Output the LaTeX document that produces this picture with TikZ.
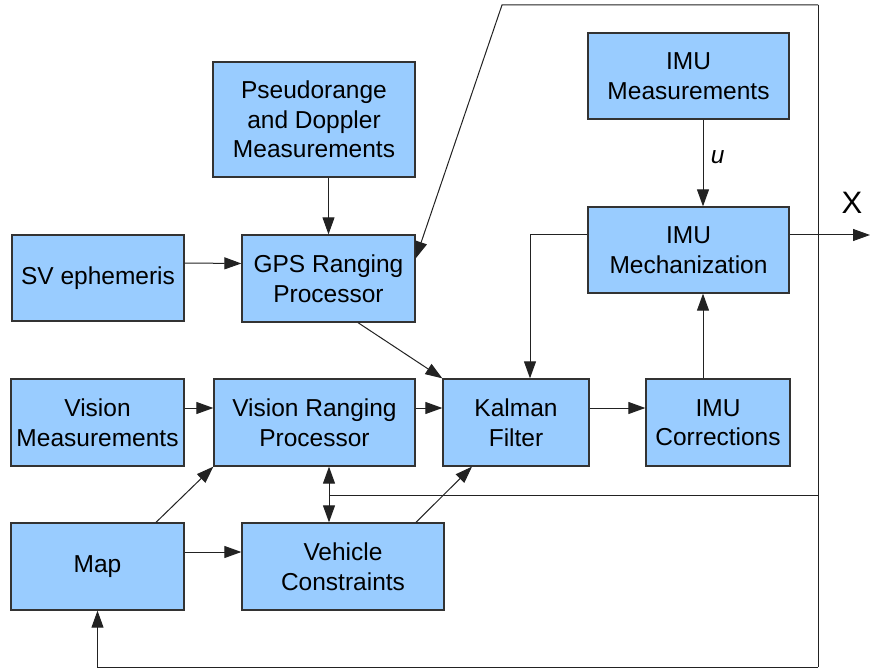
\documentclass[tikz,border=0pt]{standalone}
\usepackage{fontspec}
\setmainfont{Liberation Sans}
\usetikzlibrary{arrows.meta}
\definecolor{boxfill}{HTML}{99CCFF}
\definecolor{boxline}{HTML}{333333}
\definecolor{wire}{HTML}{222222}
\tikzset{
  blk/.style={draw=boxline, fill=boxfill, line width=1.3pt, inner sep=0pt, align=center,
    font=\fontsize{24.5}{29.5}\selectfont},
  wireline/.style={draw=wire, line width=1pt},
  arr/.style={wireline, -{Triangle[length=17pt,width=12pt]}},
  darr/.style={wireline, {Triangle[length=17pt,width=12pt]}-{Triangle[length=17pt,width=12pt]}},
}
\begin{document}
\begin{tikzpicture}[x=1pt,y=-1pt]
\useasboundingbox[fill=white] (0,0) rectangle (870,668);
% boxes
\node[blk, minimum width=202pt, minimum height=115pt] (pseudo) at (314,119.5) {Pseudorange\\and Doppler\\Measurements};
\node[blk, minimum width=201pt, minimum height=86pt] (imumeas) at (688.5,76) {IMU\\Measurements};
\node[blk, minimum width=172pt, minimum height=86pt] (sv) at (98,278) {SV ephemeris};
\node[blk, minimum width=173pt, minimum height=87pt] (gps) at (328.5,278.5) {GPS Ranging\\Processor};
\node[blk, minimum width=201pt, minimum height=86pt] (imumech) at (688.5,250) {IMU\\Mechanization};
\node[blk, minimum width=173pt, minimum height=87pt] (vmeas) at (97.5,422.5) {Vision\\Measurements};
\node[blk, minimum width=201pt, minimum height=87pt] (vrang) at (314.5,422.5) {Vision Ranging\\Processor};
\node[blk, minimum width=146pt, minimum height=87pt] (kalman) at (516,422.5) {Kalman\\Filter};
\node[blk, minimum width=144pt, minimum height=87pt] (imucorr) at (718,422.5) {IMU\\Corrections};
\node[blk, minimum width=173pt, minimum height=87pt] (map) at (97.5,566.5) {Map};
\node[blk, minimum width=202pt, minimum height=87pt] (vehicle) at (343,566.5) {Vehicle\\Constraints};
% feedback loop coordinates
\coordinate (tl) at (502,5);
\coordinate (tr) at (818,5);
\coordinate (br) at (818,667);
\coordinate (junc) at (818,495);
\coordinate (mid) at (329,495);
\coordinate (xout) at (870,235);
% connectors
\draw[arr] (gps.north |- pseudo.south) -- (gps.north);
\draw[arr] ([yshift=15pt]sv.east) -- ([yshift=15pt]gps.west);
\draw[arr] ([xshift=29.5pt]gps.south) -- (kalman.north west);
\draw[arr] ([xshift=14.5pt]imumeas.south) -- node[right=4pt, yshift=6pt, font=\fontsize{24.5}{29.5}\selectfont\itshape] (ulabel) {u} ([xshift=14.5pt]imumech.north);
\draw[arr] ([yshift=15pt]imumech.east) -- (xout);
\node[font=\fontsize{31}{36}\selectfont, anchor=base] (xlabel) at (852,214) {X};
\draw[arr] ([yshift=15pt]imumech.west) -| ([xshift=14pt]kalman.north);
\draw[arr] ([yshift=14.5pt]kalman.east) -- ([yshift=14.5pt]imucorr.west);
\draw[arr] ([xshift=-15pt]imucorr.north) -- ([xshift=14.5pt]imumech.south);
\draw[arr] ([yshift=14.5pt]vmeas.east) -- ([yshift=14.5pt]vrang.west);
\draw[arr] ([yshift=14.5pt]vrang.east) -- ([yshift=14.5pt]kalman.west);
\draw[arr] ([xshift=58.5pt]map.north) -- (vrang.south west);
\draw[arr] ([yshift=14.5pt]map.east) -- ([yshift=14.5pt]vehicle.west);
\draw[arr] ([xshift=73pt]vehicle.north) -- ([xshift=-44pt]kalman.south);
\draw[darr] (vrang.south -| mid) -- (vehicle.north -| mid);
\draw[arr] (tr) -- (tl) -- ([yshift=20pt]gps.east);
\draw[wireline] (tr) -- (br);
\draw[arr] (br) -| (map.south);
\draw[wireline] (junc) -- (mid);
\end{tikzpicture}
\end{document}
